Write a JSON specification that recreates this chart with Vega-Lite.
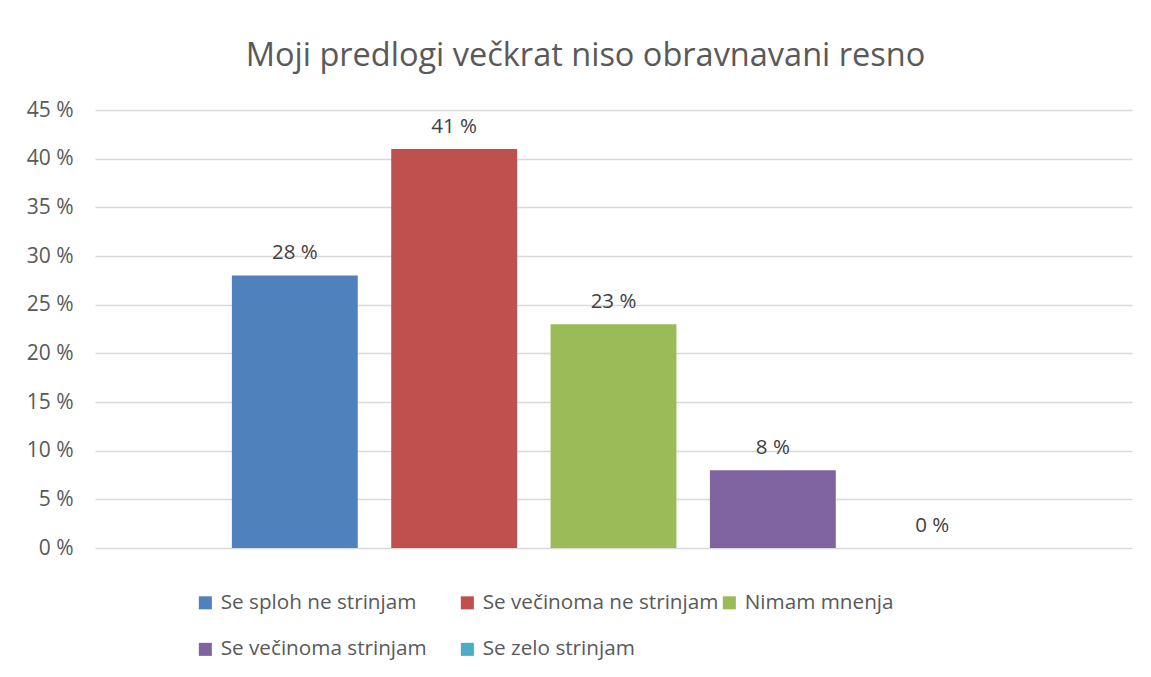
{
  "$schema": "https://vega.github.io/schema/vega-lite/v6.json",
  "autosize": "none",
  "width": 1037,
  "height": 438,
  "padding": {"left": 95, "top": 110, "right": 19, "bottom": 129},
  "background": "white",
  "config": {
    "view": {"stroke": null},
    "font": "Open Sans"
  },
  "title": {
    "text": "Moji predlogi večkrat niso obravnavani resno",
    "anchor": "middle",
    "frame": "group",
    "dx": -28,
    "fontSize": 32.5,
    "fontWeight": "normal",
    "color": "#595959",
    "font": "Open Sans",
    "offset": 27
  },
  "data": {
    "values": [
      {"cat": "Se sploh ne strinjam", "value": 28, "label": "28 %"},
      {"cat": "Se večinoma ne strinjam", "value": 41, "label": "41 %"},
      {"cat": "Nimam mnenja", "value": 23, "label": "23 %"},
      {"cat": "Se večinoma strinjam", "value": 8, "label": "8 %"},
      {"cat": "Se zelo strinjam", "value": 0, "label": "0 %"}
    ]
  },
  "encoding": {
    "x": {
      "field": "cat",
      "type": "nominal",
      "sort": null,
      "axis": null,
      "scale": {"paddingInner": 0.21, "paddingOuter": 0.859}
    },
    "y": {
      "field": "value",
      "type": "quantitative",
      "scale": {"domain": [0, 45], "nice": false},
      "axis": {
        "title": null,
        "values": [0, 5, 10, 15, 20, 25, 30, 35, 40, 45],
        "labelExpr": "datum.value + ' %'",
        "domain": false,
        "ticks": false,
        "gridColor": "#d9d9d9",
        "gridWidth": 1.3,
        "labelColor": "#595959",
        "labelFontSize": 21,
        "labelFont": "Open Sans",
        "labelPadding": 22
      }
    }
  },
  "layer": [
    {
      "mark": {"type": "bar"},
      "encoding": {
        "color": {
          "field": "cat",
          "type": "nominal",
          "sort": null,
          "scale": {
            "domain": ["Se sploh ne strinjam", "Se večinoma ne strinjam", "Nimam mnenja", "Se večinoma strinjam", "Se zelo strinjam"],
            "range": ["#4F81BD", "#C0504D", "#9BBB59", "#8064A2", "#4BACC6"]
          },
          "legend": {
            "title": null,
            "orient": "none",
            "legendX": 100,
            "legendY": 482,
            "direction": "horizontal",
            "columns": 3,
            "gridAlign": "all",
            "symbolType": "square",
            "symbolSize": 170,
            "symbolStrokeWidth": 0,
            "symbolOpacity": 1,
            "labelFontSize": 20.7,
            "labelFont": "Open Sans",
            "labelColor": "#595959",
            "labelOffset": 5,
            "labelLimit": 400,
            "columnPadding": 0,
            "rowPadding": 25
          }
        }
      }
    },
    {
      "mark": {"type": "text", "baseline": "bottom", "dy": -12, "fontSize": 20.5, "color": "#404040", "font": "Open Sans"},
      "encoding": {
        "text": {"field": "label", "type": "nominal"}
      }
    }
  ]
}
